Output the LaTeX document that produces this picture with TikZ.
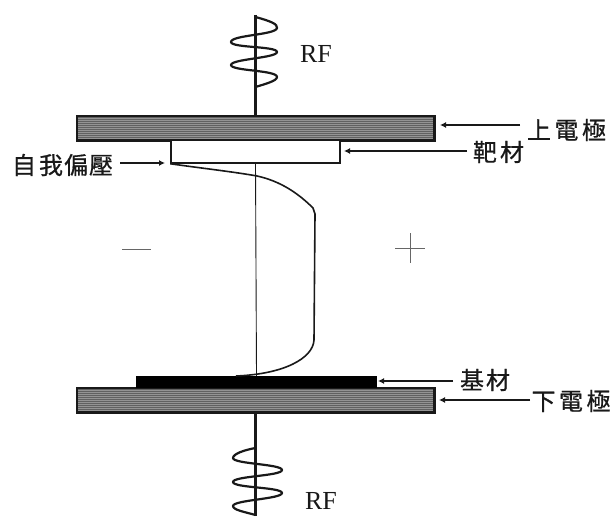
\documentclass[tikz,border=0pt]{standalone}
\usepackage{fontspec}
\setmainfont{Liberation Serif}
\newfontfamily\cjkf[FakeBold=0.6]{Noto Sans CJK TC}
\usetikzlibrary{arrows.meta}
\definecolor{ink}{gray}{0.1}
\tikzset{
  plate/.style={draw=ink,line width=1.5pt,inner sep=0pt,minimum width=357pt,minimum height=24pt,fill=black!62},
  stripe/.style={black!42,line width=0.6pt},
  lead/.style={draw=ink,line width=2.6pt},
  wave/.style={draw=ink,line width=2.2pt},
  pointer/.style={draw=ink,line width=1.7pt,-{Latex[length=6pt,width=6pt]}},
  cjk/.style={font=\cjkf\fontsize{24}{24}\selectfont,text=ink,inner sep=0pt},
  rf/.style={font=\fontsize{26}{26}\selectfont,text=ink,inner sep=0pt},
  sign/.style={draw=black!60,line width=0.9pt}
}
\begin{document}
\begin{tikzpicture}[x=1pt,y=-1pt]
\useasboundingbox (0,0) rectangle (612,516);
\fill[white] (0,0) rectangle (612,516);
% electrodes, target, substrate
\node[plate] (top) at (255.5,128) {};
\node[plate] (bot) at (255.5,400) {};
\foreach \y in {118,120,...,138}{\draw[stripe] (78,\y) -- (433,\y);}
\foreach \y in {390,392,...,410}{\draw[stripe] (78,\y) -- (433,\y);}
\draw[draw=ink,line width=1.5pt] (top.south west) rectangle (top.north east);
\draw[draw=ink,line width=1.5pt] (bot.south west) rectangle (bot.north east);
\node[draw=ink,line width=1.5pt,fill=white,inner sep=0pt,minimum width=169pt,minimum height=23pt] (target) at (255.5,151.5) {};
\node[fill=black,inner sep=0pt,minimum width=241pt,minimum height=12pt] (sub) at (256.5,382) {};
% axis and leads
\coordinate (topend) at (255.5,15);
\coordinate (botend) at (255.5,516);
\draw[lead] (topend) -- (top.north);
\draw[lead] (bot.south) -- (botend);
\draw[draw=ink,line width=0.9pt] (target.south) -- (sub.north);
% RF waves
\draw[wave] (255.5,17) .. controls (270,21) and (278,24) .. (277,28)
  .. controls (276,35) and (231,35) .. (231,42)
  .. controls (231,48) and (277,46) .. (277,52)
  .. controls (277,58) and (231,59) .. (231,65)
  .. controls (231,71) and (277,70) .. (277,77)
  .. controls (277,81) and (265,84) .. (255.5,87);
\draw[wave] (255.5,448) .. controls (244,450) and (233,454) .. (233,458)
  .. controls (233,464) and (282,464) .. (282,470)
  .. controls (282,476) and (233,476) .. (233,482)
  .. controls (233,488) and (282,487) .. (282,493)
  .. controls (282,499) and (233,500) .. (233,506)
  .. controls (233,510) and (245,512) .. (255.5,515);
\node[rf] (rf1) at (316,54) {RF};
\node[rf] (rf2) at (321,501) {RF};
% sheath potential curve
\coordinate (c0) at (target.south west);
\draw[draw=ink,line width=1.6pt] (c0) .. controls (200,168) and (235,172) .. (257,176)
  .. controls (280,181) and (298,193) .. (313,208)
  -- (315,214) -- (314,340)
  .. controls (313,358) and (285,374) .. (236,376);
% signs
\coordinate (ma) at (122,249); \coordinate (mb) at (151,249);
\draw[sign] (ma) -- (mb);
\coordinate (pa) at (395,248); \coordinate (pb) at (425,248);
\coordinate (pc) at (410,233); \coordinate (pd) at (410,263);
\draw[sign] (pa) -- (pb);
\draw[sign] (pc) -- (pd);
% labels and pointers
\node[cjk,anchor=center] (l1) at (566.5,130) {上\hspace{3.5pt}電\hspace{3.5pt}極};
\node[cjk,anchor=center] (l2) at (498.5,152) {靶\hspace{3pt}材};
\node[cjk,anchor=center] (l3) at (62.5,165) {自\hspace{3pt}我\hspace{1pt}偏\hspace{1pt}壓};
\node[cjk,anchor=center] (l4) at (485,380) {基\hspace{2pt}材};
\node[cjk,anchor=center] (l5) at (571,401) {下\hspace{3.5pt}電\hspace{3.5pt}極};
\coordinate (a1) at (440,125);
\coordinate (a2) at (344,151);
\coordinate (a3) at (165,163);
\coordinate (a4) at (378,381);
\coordinate (a5) at (439,400);
\coordinate (b1) at (520,125);
\coordinate (b2) at (467,151);
\coordinate (b3) at (120,163);
\coordinate (b4) at (453,381);
\coordinate (b5) at (530,400);
\draw[pointer] (b1) -- (a1);
\draw[pointer] (b2) -- (a2);
\draw[pointer] (b3) -- (a3);
\draw[pointer] (b4) -- (a4);
\draw[pointer] (b5) -- (a5);
\end{tikzpicture}
\end{document}
